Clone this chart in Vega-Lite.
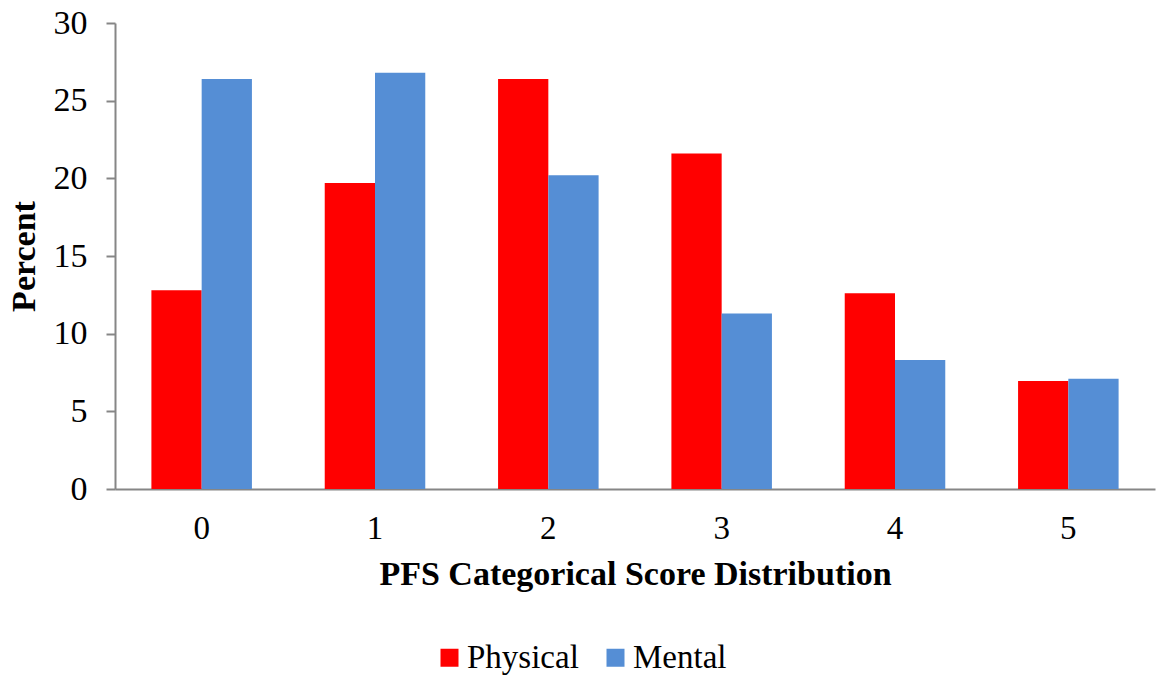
{
  "$schema": "https://vega.github.io/schema/vega-lite/v6.json",
  "autosize": {"type": "none"},
  "padding": {"left": 115, "top": 23, "right": 2, "bottom": 188},
  "width": 1040,
  "height": 466,
  "background": "white",
  "config": {
    "view": {"stroke": null},
    "font": "Liberation Serif"
  },
  "data": {
    "values": [
      {"score": "0", "type": "Physical", "percent": 12.8},
      {"score": "0", "type": "Mental", "percent": 26.4},
      {"score": "1", "type": "Physical", "percent": 19.7},
      {"score": "1", "type": "Mental", "percent": 26.8},
      {"score": "2", "type": "Physical", "percent": 26.4},
      {"score": "2", "type": "Mental", "percent": 20.2},
      {"score": "3", "type": "Physical", "percent": 21.6},
      {"score": "3", "type": "Mental", "percent": 11.3},
      {"score": "4", "type": "Physical", "percent": 12.6},
      {"score": "4", "type": "Mental", "percent": 8.3},
      {"score": "5", "type": "Physical", "percent": 6.95},
      {"score": "5", "type": "Mental", "percent": 7.1}
    ]
  },
  "mark": {"type": "bar"},
  "encoding": {
    "x": {
      "field": "score", "type": "nominal",
      "scale": {"paddingInner": 0.42, "paddingOuter": 0.21},
      "axis": {
        "title": "PFS Categorical Score Distribution",
        "titleFont": "Liberation Serif", "titleFontSize": 34, "titleFontWeight": "bold", "titleColor": "black",
        "titlePadding": 12,
        "labelAngle": 0, "labelFont": "Liberation Serif", "labelFontSize": 33, "labelColor": "black",
        "labelPadding": 23,
        "ticks": false, "domainColor": "#868686", "domainWidth": 2, "grid": false
      }
    },
    "xOffset": {"field": "type", "sort": ["Physical", "Mental"]},
    "y": {
      "field": "percent", "type": "quantitative",
      "scale": {"domain": [0, 30]},
      "axis": {
        "title": "Percent", "values": [0, 5, 10, 15, 20, 25, 30],
        "titleFont": "Liberation Serif", "titleFontSize": 34, "titleFontWeight": "bold", "titleColor": "black",
        "titlePadding": 12,
        "labelFont": "Liberation Serif", "labelFontSize": 34, "labelColor": "black",
        "labelPadding": 19, "tickSize": 9, "tickColor": "#868686", "tickWidth": 2,
        "domainColor": "#868686", "domainWidth": 2, "grid": false
      }
    },
    "color": {
      "field": "type", "type": "nominal",
      "scale": {"domain": ["Physical", "Mental"], "range": ["#FF0000", "#558ED5"]},
      "legend": {
        "title": null, "orient": "none", "direction": "horizontal",
        "legendX": 318, "legendY": 618,
        "symbolType": "square", "symbolSize": 324, "symbolStrokeWidth": 0,
        "labelFont": "Liberation Serif", "labelFontSize": 33, "labelColor": "black",
        "columnPadding": 20, "labelOffset": 1
      }
    }
  }
}
